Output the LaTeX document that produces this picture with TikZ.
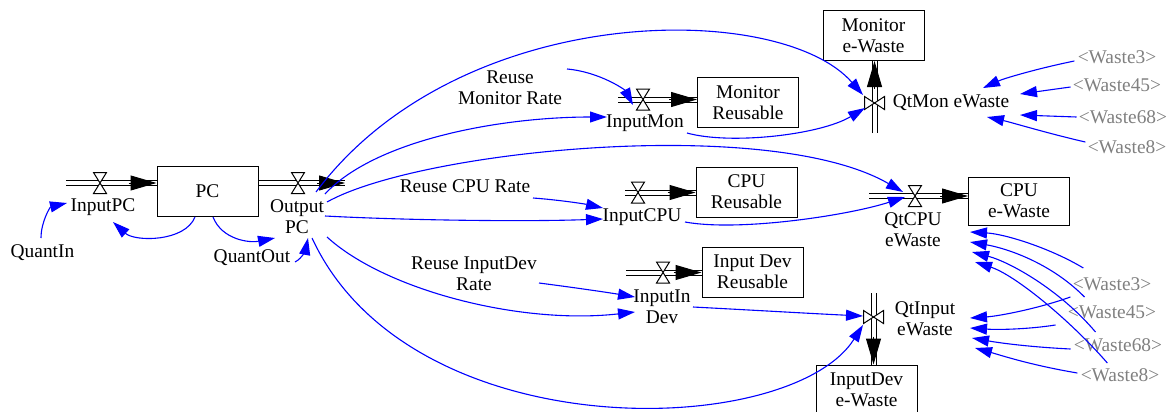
\documentclass[tikz,border=0pt]{standalone}
\usepackage{fontspec}
\setmainfont{Liberation Serif}
\usetikzlibrary{arrows.meta,calc}
\begin{document}
\begin{tikzpicture}[x=0.5pt,y=-0.5pt,
  every node/.style={font=\fontsize{9.7}{10.5}\selectfont, inner sep=0pt, align=center},
  stock/.style={draw, line width=0.5pt, minimum width=50.5pt, minimum height=25pt},
  ghost/.style={text=gray},
  link/.style={draw=blue, line width=0.55pt, -{Triangle[length=8.5pt,width=5.5pt]}},
  pipe/.style={draw, line width=0.5pt, double distance=2pt},
  flowtip/.style={line width=0.5pt, -{Triangle[length=13pt,width=7.5pt]}},
  pics/valveh/.style={code={\draw[fill=white, line width=0.5pt] (-6.5,-10.5) -- (6.5,-10.5) -- (-6.5,10.5) -- (6.5,10.5) -- cycle;}},
  pics/valvev/.style={code={\draw[fill=white, line width=0.5pt] (-10,-6.5) -- (-10,6.5) -- (10,-6.5) -- (10,6.5) -- cycle;}},
]
\useasboundingbox (0,0) rectangle (1172,412);

% stocks
\node[stock] (PC) at (207.5,191) {PC};
\node[stock] (MonRe) at (748,102.5) {Monitor\\Reusable};
\node[stock] (MonEW) at (873.5,35.5) {Monitor\\e-Waste};
\node[stock] (CPURe) at (746.5,192) {CPU\\Reusable};
\node[stock, minimum height=24pt] (CPUEW) at (1019,201) {CPU\\e-Waste};
\node[stock] (DevRe) at (752.5,272) {Input Dev\\Reusable};
\node[stock] (DevEW) at (866.5,390) {InputDev\\e-Waste};

% valve positions and free pipe ends
\coordinate (vInPC) at (100,183);   \coordinate (sInPC) at (66,183);
\coordinate (vOutPC) at (298,183);  \coordinate (eOutPC) at (345,183);
\coordinate (vInMon) at (643,99.5); \coordinate (sInMon) at (618,99.5);
\coordinate (vQtMon) at (874.5,103);\coordinate (sQtMon) at (874.5,133);
\coordinate (vInCPU) at (638,192.5);\coordinate (sInCPU) at (625,192.5);
\coordinate (vQtCPU) at (915,196);  \coordinate (sQtCPU) at (869,196);
\coordinate (vInDev) at (663,272.5);\coordinate (sInDev) at (626,272.5);
\coordinate (vQtIn) at (873.5,317); \coordinate (sQtIn) at (873.5,293);

\coordinate (eInPC) at (vInPC -| PC.west);
\coordinate (sOutPC) at (vOutPC -| PC.east);
\coordinate (eInMon) at (vInMon -| MonRe.west);
\coordinate (eQtMon) at (vQtMon |- MonEW.south);
\coordinate (eInCPU) at (vInCPU -| CPURe.west);
\coordinate (eQtCPU) at (vQtCPU -| CPUEW.west);
\coordinate (eInDev) at (vInDev -| DevRe.west);
\coordinate (eQtIn) at (vQtIn |- DevEW.north);

% pipes
\foreach \s/\e in {sInPC/eInPC, sOutPC/eOutPC, sInMon/eInMon, sQtMon/eQtMon, sInCPU/eInCPU, sQtCPU/eQtCPU, sInDev/eInDev, sQtIn/eQtIn}{
  \draw[pipe] (\s) -- (\e);
  \draw[flowtip] ($(\e)!14pt!(\s)$) -- (\e);
}
\pic at (vInPC) {valveh};
\pic at (vOutPC) {valveh};
\pic at (vInMon) {valveh};
\pic at (vInCPU) {valveh};
\pic at (vQtCPU) {valveh};
\pic at (vInDev) {valveh};
\pic at (vQtMon) {valvev};
\pic at (vQtIn) {valvev};

% labels
\node (lInPC) at (103,207) {InputPC};
\node (lOutPC) at (297,217) {Output\\PC};
\node (lQuantIn) at (42.5,253) {QuantIn};
\node (lQuantOut) at (252,258) {QuantOut};
\node (lRMR) at (510,88) {Reuse\\Monitor Rate};
\node (lInMon) at (645,123) {InputMon};
\node (lQtMon) at (951,103) {QtMon eWaste};
\node (lRCR) at (465,186) {Reuse CPU Rate};
\node (lInCPU) at (642,217) {InputCPU};
\node (lQtCPU) at (913,230) {QtCPU\\eWaste};
\node (lRDR) at (474,273.5) {Reuse InputDev\\Rate};
\node (lInDev) at (662,307) {InputIn\\Dev};
\node (lQtIn) at (925,319) {QtInput\\eWaste};

\node[ghost] (w1a) at (1117,57) {<Waste3>};
\node[ghost] (w1b) at (1117,85) {<Waste45>};
\node[ghost] (w1c) at (1123,117) {<Waste68>};
\node[ghost] (w1d) at (1127,147) {<Waste8>};
\node[ghost] (w2a) at (1112,284) {<Waste3>};
\node[ghost] (w2b) at (1112,312) {<Waste45>};
\node[ghost] (w2c) at (1118,345) {<Waste68>};
\node[ghost] (w2d) at (1120,375) {<Waste8>};

% link end points
\coordinate (kQI) at (41,238);   \coordinate (tQI) at (67,203);
\coordinate (kPI) at (195,217);  \coordinate (tPI) at (113,222);
\coordinate (kPO) at (213,217);  \coordinate (tPO) at (275,238);
\coordinate (kQO) at (295,262);  \coordinate (tQO) at (308,238);
\coordinate (kO1) at (316,192);  \coordinate (tO1) at (863,95);
\coordinate (kO2) at (325,194);  \coordinate (tO2) at (607,117);
\coordinate (kO3) at (327,202);  \coordinate (tO3) at (903,192);
\coordinate (kO4) at (325,216);  \coordinate (tO4) at (603,219);
\coordinate (kO5) at (327,237);  \coordinate (tO5) at (635,312);
\coordinate (kO6) at (312,238);  \coordinate (tO6) at (863,325);
\coordinate (kRM) at (567,69);   \coordinate (tRM) at (633,105);
\coordinate (kIM) at (687,133);  \coordinate (tIM) at (865,108);
\coordinate (kRC) at (533,198);  \coordinate (tRC) at (603,208);
\coordinate (kIC) at (685,222);  \coordinate (tIC) at (905,197);
\coordinate (kRD) at (539,283);  \coordinate (tRD) at (635,297);
\coordinate (kID) at (693,307);  \coordinate (tID) at (863,316);

% links
\draw[link] (kQI) .. controls (41,222) and (50,207) .. (tQI);
\draw[link] (kPI) .. controls (185,242) and (135,242) .. (tPI);
\draw[link] (kPO) .. controls (222,240) and (250,243) .. (tPO);
\draw[link] (kQO) .. controls (303,258) and (306,248) .. (tQO);
\draw[link] (kO1) .. controls (460,0) and (780,0) .. (tO1);
\draw[link] (kO2) .. controls (375,140) and (500,117) .. (tO2);
\draw[link] (kO3) .. controls (420,150) and (770,115) .. (tO3);
\draw[link] (kO4) .. controls (400,220) and (520,222) .. (tO4);
\draw[link] (kO5) .. controls (385,290) and (520,325) .. (tO5);
\draw[link] (kO6) .. controls (410,450) and (790,440) .. (tO6);
\draw[link] (kRM) .. controls (600,72) and (625,90) .. (tRM);
\draw[link] (kIM) .. controls (730,145) and (820,135) .. (tIM);
\draw[link] (kRC) .. controls (560,200) and (585,204) .. (tRC);
\draw[link] (kIC) .. controls (740,232) and (850,215) .. (tIC);
\draw[link] (kRD) .. controls (570,287) and (605,292) .. (tRD);
\draw[link] (kID) .. controls (750,310) and (820,314) .. (tID);

% waste links, group 1
\coordinate (t1a) at (983,88);  \coordinate (t1b) at (1020,94);
\coordinate (t1c) at (1020,115);\coordinate (t1d) at (987,117);
\draw[link] ($(w1a.west)+(-3,4)$) .. controls (1040,68) and (1005,78) .. (t1a);
\draw[link] ($(w1b.west)+(-2,2)$) -- (t1b);
\draw[link] ($(w1c.west)+(-2,0)$) -- (t1c);
\draw[link] ($(w1d.west)+(-2,-5)$) .. controls (1050,134) and (1010,122) .. (t1d);

% waste links, group 2 to CPU e-Waste
\coordinate (t2a) at (970,232); \coordinate (t2b) at (970,242);
\coordinate (t2c) at (972,252); \coordinate (t2d) at (975,262);
\draw[link] ($(w2a.west)+(11,-16)$) .. controls (1050,248) and (1005,234) .. (t2a);
\draw[link] ($(w2b.west)+(17,-15)$) .. controls (1050,262) and (1005,248) .. (t2b);
\draw[link] ($(w2c.west)+(22,-13)$) .. controls (1060,290) and (1010,262) .. (t2c);
\draw[link] ($(w2d.west)+(27,-12)$) .. controls (1070,320) and (1015,275) .. (t2d);

% waste links, group 2 to QtInput eWaste
\coordinate (t3a) at (970,318); \coordinate (t3b) at (970,328);
\coordinate (t3c) at (972,338); \coordinate (t3d) at (975,348);
\draw[link] ($(w2a.west)+(-2,13)$) .. controls (1040,308) and (1000,316) .. (t3a);
\draw[link] ($(w2b.west)+(-12,13)$) .. controls (1030,329) and (1000,330) .. (t3b);
\draw[link] ($(w2c.west)+(-3,4)$) .. controls (1030,347) and (1000,343) .. (t3c);
\draw[link] ($(w2d.west)+(-3,-2)$) .. controls (1030,365) and (1000,355) .. (t3d);
\end{tikzpicture}
\end{document}
